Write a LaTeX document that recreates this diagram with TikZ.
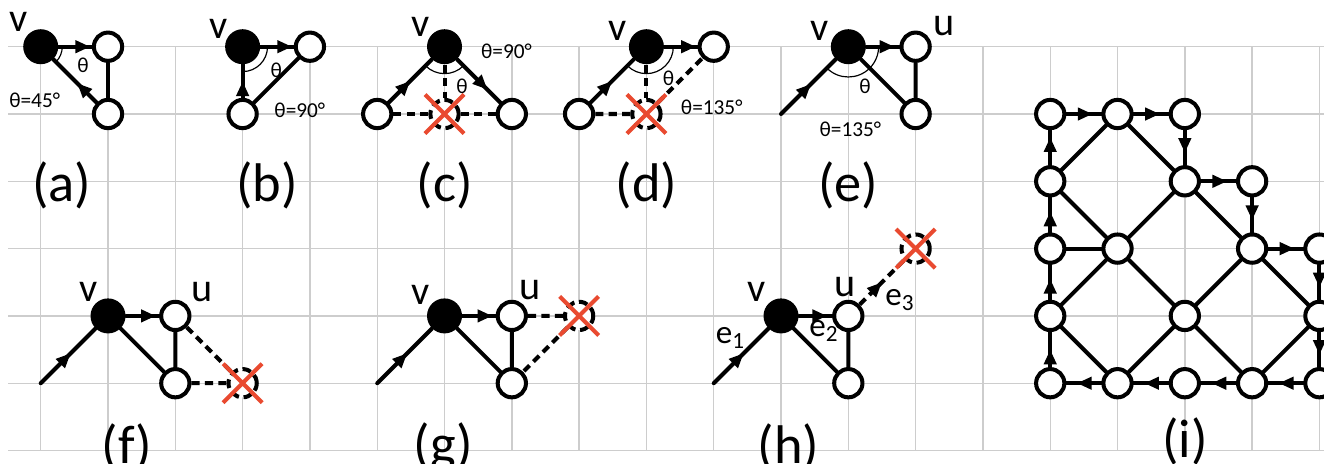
\documentclass[tikz,border=0pt]{standalone}
\usepackage{fontspec}
\setmainfont{Carlito}
\usetikzlibrary{arrows.meta,decorations.markings,shapes.misc,angles,backgrounds}

\definecolor{xred}{RGB}{233,74,48}
\definecolor{gridgray}{RGB}{205,205,205}

\tikzset{
	wnode/.style={circle, draw, line width=1.7pt, fill=white, minimum size=0.42cm, inner sep=0pt},
	bnode/.style={circle, fill=black, minimum size=0.52cm, inner sep=0pt},
	xnode/.style={circle, draw, line width=1.7pt, dash pattern=on 0.13cm off 0.07cm, fill=white,
		minimum size=0.42cm, inner sep=0pt, label={[xmark]center:}},
	xmark/.style={cross out, draw=xred, solid, fill=none, line width=1.7pt, minimum size=0.52cm, inner sep=0pt},
	link/.style={line width=1.7pt, line cap=round},
	dlink/.style={line width=1.7pt, dash pattern=on 0.12cm off 0.08cm},
	arr/.style={postaction={decorate, decoration={markings,
		mark=at position #1 with {\arrow{Triangle[length=2.2mm, width=1.8mm]}}}}},
	arr/.default=0.6,
	gridline/.style={draw=gridgray, line width=0.6pt},
	vlab/.style={font=\fontsize{17}{20}\selectfont},
	elab/.style={font=\fontsize{14}{16}\selectfont},
	anglab/.style={font=\fontsize{9}{10}\selectfont},
	sublab/.style={font=\fontsize{23}{26}\selectfont},
	anglearc/.style={draw, line width=0.5pt}
}

\begin{document}
\begin{tikzpicture}
	\useasboundingbox (-0.605,-6.2) rectangle (19.068,0.694);

	% (a)
	\node[bnode] (av) at (0,0) {};
	\node[wnode] (a2) at (1,0) {};
	\node[wnode] (a3) at (1,-1) {};
	\node[vlab] (avl) at (-0.33,0.37) {v};
	\node[anglab] (ath) at (0.63,-0.27) {θ};
	\node[anglab] (athv) at (-0.09,-0.79) {θ=45°};
	\node[sublab] (acap) at (0.31,-2.06) {(a)};
	\pic[anglearc, angle radius=0.32cm] {angle=a3--av--a2};

	% (b)
	\node[bnode] (bv) at (3,0) {};
	\node[wnode] (b2) at (4,0) {};
	\node[wnode] (b3) at (3,-1) {};
	\node[vlab] (bvl) at (2.64,0.27) {v};
	\node[anglab] (bth) at (3.5,-0.35) {θ};
	\node[anglab] (bthv) at (3.85,-0.95) {θ=90°};
	\node[sublab] (bcap) at (3.36,-2.06) {(b)};
	\pic[anglearc, angle radius=0.37cm] {angle=b3--bv--b2};

	% (c)
	\node[bnode] (cv) at (6,0) {};
	\node[wnode] (c1) at (5,-1) {};
	\node[xnode] (cx) at (6,-1) {};
	\node[wnode] (c3) at (7,-1) {};
	\node[vlab] (cvl) at (5.64,0.3) {v};
	\node[anglab] (cth) at (6.26,-0.59) {θ};
	\node[anglab] (cthv) at (6.92,-0.07) {θ=90°};
	\node[sublab] (ccap) at (6,-2.06) {(c)};
	\pic[anglearc, angle radius=0.4cm] {angle=c1--cv--c3};

	% (d)
	\node[bnode] (dv) at (9,0) {};
	\node[wnode] (d1) at (8,-1) {};
	\node[xnode] (dx) at (9,-1) {};
	\node[wnode] (d3) at (10,0) {};
	\node[vlab] (dvl) at (8.57,0.24) {v};
	\node[anglab] (dth) at (9.33,-0.47) {θ};
	\node[anglab] (dthv) at (9.97,-0.9) {θ=135°};
	\node[sublab] (dcap) at (9,-2.06) {(d)};
	\pic[anglearc, angle radius=0.4cm] {angle=d1--dv--d3};

	% (e)
	\coordinate (ein) at (11,-1);
	\node[bnode] (ev) at (12,0) {};
	\node[wnode] (eu) at (13,0) {};
	\node[wnode] (e3) at (13,-1) {};
	\node[vlab] (evl) at (11.58,0.24) {v};
	\node[vlab] (eul) at (13.42,0.3) {u};
	\node[anglab] (eth) at (12.25,-0.59) {θ};
	\node[anglab] (ethv) at (12.03,-1.22) {θ=135°};
	\node[sublab] (ecap) at (12,-2.06) {(e)};
	\pic[anglearc, angle radius=0.45cm] {angle=ein--ev--eu};

	% (f)
	\coordinate (fin) at (0,-5);
	\node[bnode] (fv) at (1,-4) {};
	\node[wnode] (fu) at (2,-4) {};
	\node[wnode] (f3) at (2,-5) {};
	\node[xnode] (fx) at (3,-5) {};
	\node[vlab] (fvl) at (0.71,-3.64) {v};
	\node[vlab] (ful) at (2.39,-3.64) {u};
	\node[sublab] (fcap) at (1.28,-5.95) {(f)};

	% (g)
	\coordinate (gin) at (5,-5);
	\node[bnode] (gv) at (6,-4) {};
	\node[wnode] (gu) at (7,-4) {};
	\node[wnode] (g3) at (7,-5) {};
	\node[xnode] (gx) at (8,-4) {};
	\node[vlab] (gvl) at (5.64,-3.69) {v};
	\node[vlab] (gul) at (7.27,-3.61) {u};
	\node[sublab] (gcap) at (5.98,-5.95) {(g)};

	% (h)
	\coordinate (hin) at (10,-5);
	\node[bnode] (hv) at (11,-4) {};
	\node[wnode] (hu) at (12,-4) {};
	\node[wnode] (h3) at (12,-5) {};
	\node[xnode] (hx) at (13,-3) {};
	\node[vlab] (hvl) at (10.64,-3.64) {v};
	\node[vlab] (hul) at (11.95,-3.57) {u};
	\node[elab] (he1) at (10.25,-4.33) {e\textsubscript{1}};
	\node[elab] (he2) at (11.64,-4.23) {e\textsubscript{2}};
	\node[elab] (he3) at (12.77,-3.77) {e\textsubscript{3}};
	\node[sublab] (hcap) at (11.11,-5.95) {(h)};

	% (i) lattice, named i<column><row>
	\node[wnode] (i11) at (15,-1) {};
	\node[wnode] (i21) at (16,-1) {};
	\node[wnode] (i31) at (17,-1) {};
	\node[wnode] (i12) at (15,-2) {};
	\node[wnode] (i32) at (17,-2) {};
	\node[wnode] (i42) at (18,-2) {};
	\node[wnode] (i13) at (15,-3) {};
	\node[wnode] (i23) at (16,-3) {};
	\node[wnode] (i43) at (18,-3) {};
	\node[wnode] (i53) at (19,-3) {};
	\node[wnode] (i14) at (15,-4) {};
	\node[wnode] (i34) at (17,-4) {};
	\node[wnode] (i54) at (19,-4) {};
	\node[wnode] (i15) at (15,-5) {};
	\node[wnode] (i25) at (16,-5) {};
	\node[wnode] (i35) at (17,-5) {};
	\node[wnode] (i45) at (18,-5) {};
	\node[wnode] (i55) at (19,-5) {};
	\node[sublab] (icap) at (17,-5.86) {(i)};

	\begin{scope}[on background layer]
		% grid
		\draw[gridline] (-0.486,0) grid (19.07,-6);

		% edges (a)
		\draw[link, arr=0.95] (av) -- (a2);
		\draw[link] (a2) -- (a3);
		\draw[link, arr=0.45] (a3) -- (av);
		% edges (b)
		\draw[link, arr=0.5] (b3) -- (bv);
		\draw[link, arr=0.95] (bv) -- (b2);
		\draw[link] (b3) -- (b2);
		% edges (c)
		\draw[link, arr=0.5] (c1) -- (cv);
		\draw[link, arr=0.7] (cv) -- (c3);
		\draw[dlink] (cv) -- (cx);
		\draw[dlink] (c1) -- (cx) -- (c3);
		% edges (d)
		\draw[link, arr=0.5] (d1) -- (dv);
		\draw[link, arr=0.95] (dv) -- (d3);
		\draw[dlink] (dv) -- (dx);
		\draw[dlink] (d1) -- (dx) -- (d3);
		% edges (e)
		\draw[link, arr=0.55] (ein) -- (ev);
		\draw[link, arr=0.85] (ev) -- (eu);
		\draw[link] (ev) -- (e3) -- (eu);
		% edges (f)
		\draw[link, arr=0.55] (fin) -- (fv);
		\draw[link, arr=0.9] (fv) -- (fu);
		\draw[link] (fv) -- (f3) -- (fu);
		\draw[dlink] (fu) -- (fx) -- (f3);
		% edges (g)
		\draw[link, arr=0.55] (gin) -- (gv);
		\draw[link, arr=0.9] (gv) -- (gu);
		\draw[link] (gv) -- (g3) -- (gu);
		\draw[dlink] (gu) -- (gx) -- (g3);
		% edges (h)
		\draw[link, arr=0.55] (hin) -- (hv);
		\draw[link, arr=0.85] (hv) -- (hu);
		\draw[link] (hv) -- (h3) -- (hu);
		\draw[dlink, arr=0.5] (hu) -- (hx);

		% edges (i): diagonals
		\draw[link] (i12) -- (i21);
		\draw[link] (i14) -- (i23) -- (i32);
		\draw[link] (i25) -- (i34) -- (i43);
		\draw[link] (i45) -- (i54);
		\draw[link] (i21) -- (i32) -- (i43) -- (i54);
		\draw[link] (i12) -- (i23) -- (i34) -- (i45);
		\draw[link] (i14) -- (i25);
		\draw[link] (i13) -- (i23);
		% edges (i): directed border
		\draw[link, arr=0.75] (i11) -- (i21);
		\draw[link, arr=0.75] (i21) -- (i31);
		\draw[link, arr=0.65] (i31) -- (i32);
		\draw[link, arr=0.75] (i32) -- (i42);
		\draw[link, arr=0.65] (i42) -- (i43);
		\draw[link, arr=0.75] (i43) -- (i53);
		\draw[link, arr=0.65] (i53) -- (i54);
		\draw[link, arr=0.65] (i54) -- (i55);
		\draw[link, arr=0.7] (i55) -- (i45);
		\draw[link, arr=0.7] (i45) -- (i35);
		\draw[link, arr=0.7] (i35) -- (i25);
		\draw[link, arr=0.7] (i25) -- (i15);
		\draw[link, arr=0.5] (i15) -- (i14);
		\draw[link, arr=0.6] (i14) -- (i13);
		\draw[link, arr=0.6] (i13) -- (i12);
		\draw[link, arr=0.8] (i12) -- (i11);
	\end{scope}
\end{tikzpicture}
\end{document}
